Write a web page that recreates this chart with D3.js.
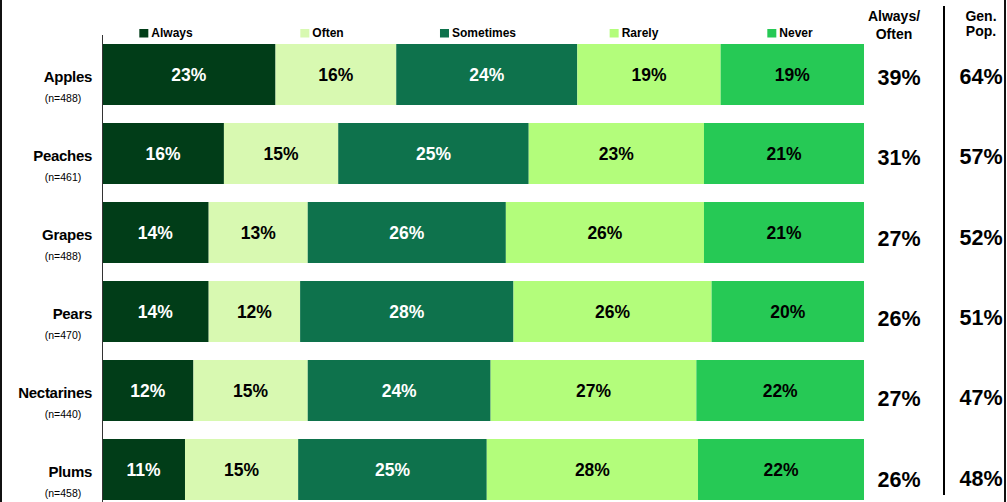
<!DOCTYPE html>
<html>
<head>
<meta charset="utf-8">
<script src="https://cdn.jsdelivr.net/npm/d3@7"></script>
<style>
  body { margin: 0; background: #fff; }
  svg { display: block; font-family: "Liberation Sans", Arial, sans-serif; }
</style>
</head>
<body>
<div id="wrapper"></div>
<script>
// chart data
const fruits = ["Apples", "Peaches", "Grapes", "Pears", "Nectarines", "Plums"];
const sampleSizes = [488, 461, 488, 470, 440, 458];
const answers = ["Always", "Often", "Sometimes", "Rarely", "Never"];
const always    = [23, 16, 14, 14, 12, 11];
const often     = [16, 15, 13, 12, 15, 15];
const sometimes = [24, 25, 26, 28, 24, 25];
const rarely    = [19, 23, 26, 26, 27, 28];
const never     = [19, 21, 21, 20, 22, 22];
const alwaysOften = [39, 31, 27, 26, 27, 26];
const genPop      = [64, 57, 52, 51, 47, 48];

const colors = ["#013d18", "#d8f9b1", "#0e724c", "#b3fd7b", "#26c955"];
const labelColors = ["#fff", "#000", "#fff", "#000", "#000"];

const width = 1007, height = 502;

const svg = d3.select("#wrapper").append("svg")
  .attr("width", width)
  .attr("height", height);

// rows -> objects for d3.stack
const rows = fruits.map((f, i) => {
  const vals = [always[i], often[i], sometimes[i], rarely[i], never[i]];
  const total = d3.sum(vals);
  const r = { fruit: f, n: sampleSizes[i] };
  answers.forEach((a, j) => { r[a] = vals[j] / total; r[a + "_raw"] = vals[j]; });
  return r;
});

const series = d3.stack().keys(answers)(rows);

const x = d3.scaleLinear().domain([0, 1]).range([102, 864]);
const y = d3.scaleBand().domain(fruits).range([35, 509])
  .paddingInner(0.228).paddingOuter(0.114);
// side columns sit on a slightly different grid
const ySide = d3.scalePoint().domain(fruits).range([77, 479]);
const color = d3.scaleOrdinal().domain(answers).range(colors);
const labelColor = d3.scaleOrdinal().domain(answers).range(labelColors);

// frame lines
svg.append("line")
  .attr("x1", 1).attr("x2", 1).attr("y1", 0).attr("y2", height)
  .attr("stroke", "#111").attr("stroke-width", 2);
svg.append("line")
  .attr("x1", 1005).attr("x2", 1005).attr("y1", 0).attr("y2", height)
  .attr("stroke", "#111").attr("stroke-width", 2);

// bars
const groups = svg.append("g")
  .selectAll("g")
  .data(series)
  .join("g")
  .attr("fill", d => color(d.key));

groups.selectAll("rect")
  .data(d => d.map(p => Object.assign(p, { key: d.key })))
  .join("rect")
  .attr("x", d => x(d[0]))
  .attr("y", d => y(d.data.fruit))
  .attr("width", d => x(d[1]) - x(d[0]))
  .attr("height", y.bandwidth());

groups.selectAll("text")
  .data(d => d)
  .join("text")
  .attr("x", d => (x(d[0]) + x(d[1])) / 2)
  .attr("y", d => y(d.data.fruit) + y.bandwidth() / 2)
  .attr("dy", "0.36em")
  .attr("text-anchor", "middle")
  .attr("fill", d => labelColor(d.key))
  .style("font-size", "17.5px")
  .style("font-weight", "bold")
  .text(d => d.data[d.key + "_raw"] + "%");

// y axis line
svg.append("line")
  .attr("x1", 102.5).attr("x2", 102.5).attr("y1", 35).attr("y2", height)
  .attr("stroke", "#333").attr("stroke-width", 1);

// category labels
const cat = svg.append("g").selectAll("g")
  .data(rows)
  .join("g")
  .attr("transform", d => `translate(0,${y(d.fruit) + y.bandwidth() / 2})`);

cat.append("text")
  .attr("x", 92)
  .attr("y", 2)
  .attr("dy", "0.36em")
  .attr("text-anchor", "end")
  .style("font-size", "15px")
  .style("font-weight", "bold")
  .style("letter-spacing", "-0.3px")
  .text(d => d.fruit);

cat.append("text")
  .attr("x", 63)
  .attr("y", 24)
  .attr("dy", "0.36em")
  .attr("text-anchor", "middle")
  .style("font-size", "10.5px")
  .text(d => `(n=${d.n})`);

// legend
const lx = d3.scalePoint().domain(answers).range([166, 790]);
const legend = svg.append("g").selectAll("g")
  .data(answers)
  .join("g");

legend.append("text")
  .attr("y", 37)
  .style("font-size", "12px")
  .style("font-weight", "bold")
  .text(d => d)
  .each(function (d) {
    const w = this.getComputedTextLength();
    const left = lx(d) - (w + 12) / 2;
    d3.select(this).attr("x", left + 12);
    d3.select(this.parentNode).append("rect")
      .attr("x", left).attr("y", 29)
      .attr("width", 9).attr("height", 8.5)
      .attr("fill", color(d));
  });

// side columns
svg.append("line")
  .attr("x1", 944).attr("x2", 944).attr("y1", 6).attr("y2", 495)
  .attr("stroke", "#000").attr("stroke-width", 2);

const headers = [
  { x: 894, lines: ["Always/", "Often"], y0: 21, dy: 17.5 },
  { x: 981, lines: ["Gen.", "Pop."], y0: 21, dy: 14.5 }
];
headers.forEach(h => {
  svg.append("g").selectAll("text")
    .data(h.lines)
    .join("text")
    .attr("x", h.x)
    .attr("y", (d, i) => h.y0 + i * h.dy)
    .attr("text-anchor", "middle")
    .style("font-size", "14px")
    .style("font-weight", "bold")
    .text(d => d);
});

svg.append("g").selectAll("text")
  .data(fruits)
  .join("text")
  .attr("x", 899)
  .attr("y", d => ySide(d))
  .attr("dy", "0.36em")
  .attr("text-anchor", "middle")
  .style("font-size", "21.5px")
  .style("font-weight", "bold")
  .text((d, i) => alwaysOften[i] + "%");

svg.append("g").selectAll("text")
  .data(fruits)
  .join("text")
  .attr("x", 981)
  .attr("y", d => ySide(d) - 1)
  .attr("dy", "0.36em")
  .attr("text-anchor", "middle")
  .style("font-size", "21.5px")
  .style("font-weight", "bold")
  .text((d, i) => genPop[i] + "%");
</script>
</body>
</html>
